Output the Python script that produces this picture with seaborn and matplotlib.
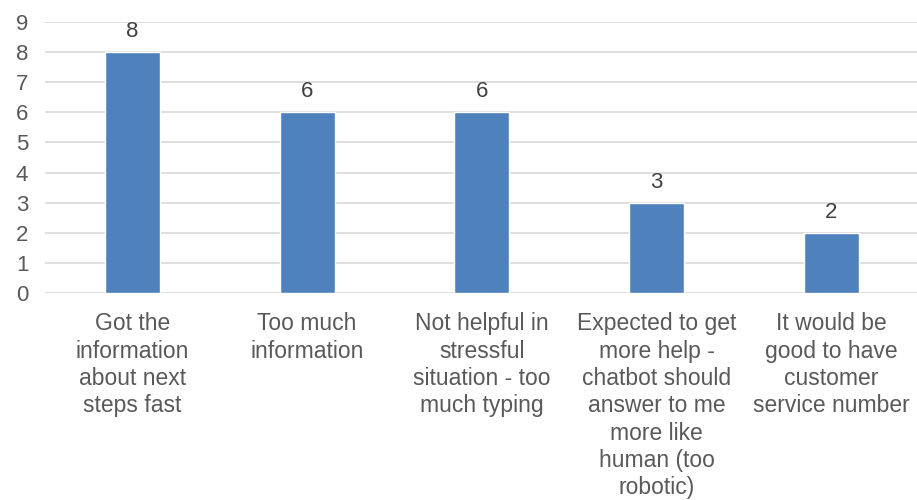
import matplotlib
matplotlib.use("Agg")
import matplotlib.pyplot as plt
import seaborn as sns
import pandas as pd

categories = [
    "Got the\ninformation\nabout next\nsteps fast",
    "Too much\ninformation",
    "Not helpful in\nstressful\nsituation - too\nmuch typing",
    "Expected to get\nmore help -\nchatbot should\nanswer to me\nmore like\nhuman (too\nrobotic)",
    "It would be\ngood to have\ncustomer\nservice number",
]
values = [8, 6, 6, 3, 2]

sns.set_theme(style="white")
plt.rcParams['font.family'] = ['Liberation Sans', 'DejaVu Sans']

df = pd.DataFrame({"cat": categories, "val": values})

fig = plt.figure(figsize=(9.17, 5.0), dpi=100)
ax = fig.add_axes([45 / 917, 1 - 293 / 500, (917 - 45) / 917, (293 - 22) / 500])
sns.barplot(data=df, x="cat", y="val", color="#4F81BD", saturation=1, width=0.315, ax=ax, zorder=3)

ax.set_ylim(0, 9)
ax.set_xlim(-0.5, 4.49)
ax.set_yticks(range(0, 10))
ax.yaxis.grid(True, color="#D9D9D9", linewidth=1.2, zorder=0)
for s in ax.spines.values():
    s.set_visible(False)
ax.set_xlabel("")
ax.set_ylabel("")
ax.tick_params(axis="both", length=0, colors="#595959")
ax.tick_params(axis="x", pad=14, labelsize=16.5)
ax.tick_params(axis="y", pad=12, labelsize=16)
for lbl in ax.get_xticklabels():
    lbl.set_linespacing(1.24)

for i, v in enumerate(values):
    ax.text(i, v + 0.33, str(v), ha="center", va="bottom", fontsize=16, color="#404040")

fig.savefig("out.png", dpi=100)
